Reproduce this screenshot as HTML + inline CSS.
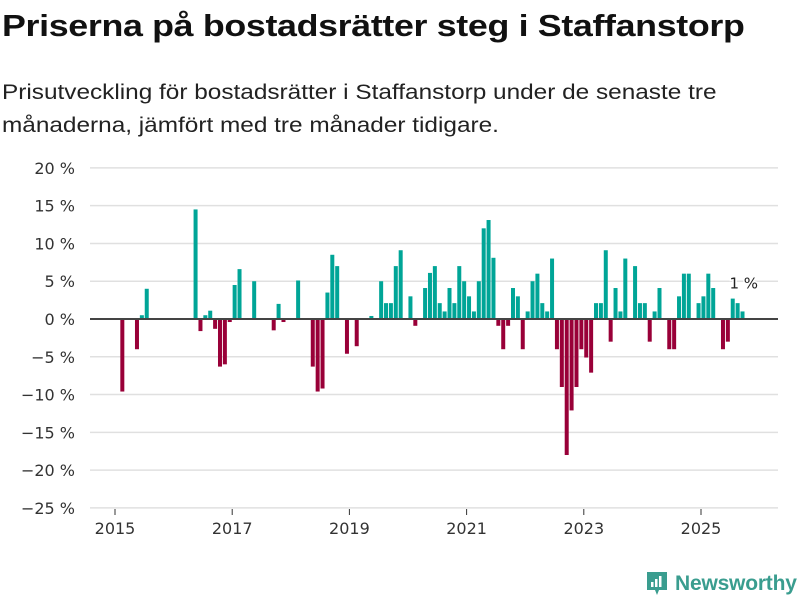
<!DOCTYPE html>
<html><head><meta charset="utf-8"><style>
body{margin:0;background:#fff;font-family:"Liberation Sans",sans-serif;}
#wrap{position:relative;width:800px;height:600px;overflow:hidden;}
h1{position:absolute;left:2px;top:8px;margin:0;font-size:31px;font-weight:bold;color:#111;letter-spacing:-0.3px;white-space:nowrap;transform:scaleX(1.155);transform-origin:0 0;}
p.sub{position:absolute;left:2px;top:76px;margin:0;font-size:21px;line-height:33px;color:#222;white-space:nowrap;transform:scaleX(1.16);transform-origin:0 0;}
</style></head><body>
<div id="wrap">
<h1>Priserna på bostadsrätter steg i Staffanstorp</h1>
<p class="sub">Prisutveckling för bostadsrätter i Staffanstorp under de senaste tre<br>månaderna, jämfört med tre månader tidigare.</p>
<svg id="chart" width="800" height="600" style="position:absolute;left:0;top:0"></svg>
<div style="position:absolute;left:645px;top:570px;display:flex;align-items:center;">
<svg width="24" height="28" viewBox="0 0 24 28"><path d="M2 2h20v18H14l-2 5-2-5H2z" fill="#3a9d8f"/><rect x="6" y="12" width="2.5" height="5" fill="#fff"/><rect x="10" y="9" width="2.5" height="8" fill="#fff"/><rect x="14" y="6" width="2.5" height="11" fill="#fff"/></svg>
<span style="font-size:21px;color:#3a9d8f;margin-left:6px;font-weight:bold;letter-spacing:-0.2px">Newsworthy</span>
</div>
</div>
<script>
const startYear = 2015, startMonth = 1; // Feb 2015 (0-based month)
const values = [-9.6,null,null,-4.0,0.5,4.0,null,null,null,null,null,null,null,null,null,14.5,-1.6,0.5,1.1,-1.3,-6.3,-6.0,-0.4,4.5,6.6,null,null,5.0,null,null,null,-1.5,2.0,-0.4,null,null,5.1,null,null,-6.3,-9.6,-9.2,3.5,8.5,7.0,null,-4.6,null,-3.6,null,null,0.4,null,5.0,2.1,2.1,7.0,9.1,null,3.0,-0.9,null,4.1,6.1,7.0,2.1,1.0,4.1,2.1,7.0,5.0,3.0,1.0,5.0,12.0,13.1,8.1,-0.9,-4.0,-0.9,4.1,3.0,-4.0,1.0,5.0,6.0,2.1,1.0,8.0,-4.0,-9.0,-18.0,-12.1,-9.0,-4.0,-5.1,-7.1,2.1,2.1,9.1,-3.0,4.1,1.0,8.0,null,7.0,2.1,2.1,-3.0,1.0,4.1,null,-4.0,-4.0,3.0,6.0,6.0,null,2.1,3.0,6.0,4.1,null,-4.0,-3.0,2.7,2.1,1.0];
const yTicks = [20,15,10,5,0,-5,-10,-15,-20,-25];
const xTickYears = [2015,2017,2019,2021,2023,2025];
const lastLabel = "1 %";

const svg = document.getElementById('chart');
const NS = 'http://www.w3.org/2000/svg';
const y = v => 319 - v * 7.556;
const x = yr => 115 + (yr - 2015) * 58.6;
function mk(tag, attrs){const e=document.createElementNS(NS,tag);for(const k in attrs)e.setAttribute(k,attrs[k]);svg.appendChild(e);return e;}
yTicks.forEach(t=>{
  const g = mk('line',{x1:90,x2:778,y1:y(t),y2:y(t),stroke:'#e0e0e0','stroke-width':1.5});
  
  
  const l = mk('text',{x:75,y:y(t)+6,'text-anchor':'end','font-size':16,fill:'#333','font-family':'DejaVu Sans, sans-serif'});
  l.textContent = (t<0?'−'+(-t):t)+' %';
  
  
});
xTickYears.forEach(yr=>{
  const tk = mk('line',{x1:x(yr),x2:x(yr),y1:509,y2:515,stroke:'#333','stroke-width':1});
  
  
  const l = mk('text',{x:x(yr),y:534,'text-anchor':'middle','font-size':16,fill:'#333','font-family':'DejaVu Sans, sans-serif'});
  l.textContent = yr;
  
  
});
let lastIdx = -1;
values.forEach((v,i)=>{
  if(v===null) return;
  lastIdx = i;
  const m = startMonth + i;
  const cx = x(startYear + (m + 0.5)/12);
  const r = mk('rect',{x:cx-2,y:Math.min(y(v),y(0)),width:4,height:Math.abs(y(v)-y(0)),fill:v>=0?'#00a597':'#990038'});
  
  
});
const z = mk('line',{x1:90,x2:778,y1:y(0),y2:y(0),stroke:'#444','stroke-width':2});


const lx = x(startYear + (startMonth + lastIdx + 0.5)/12);
const lbl = mk('text',{x:lx-13,y:y(values[lastIdx])-23,'font-size':15,fill:'#222','font-family':'DejaVu Sans, sans-serif',stroke:'#fff','stroke-width':3,'paint-order':'stroke'});
lbl.textContent = lastLabel;


</script>
</body></html>
